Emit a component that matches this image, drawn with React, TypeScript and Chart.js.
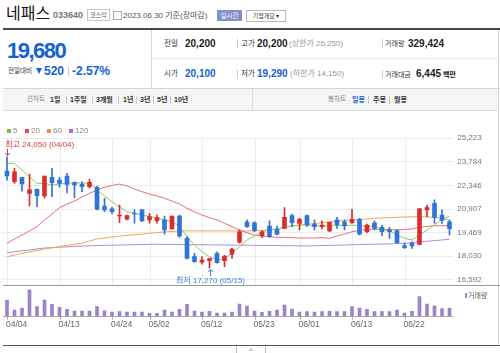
import React, { useEffect, useRef } from 'react';
import { Chart, registerables } from 'chart.js';
Chart.register(...registerables);

const DATES = ['04/04','04/05','04/06','04/07','04/10','04/11','04/12','04/13','04/14','04/17','04/18','04/19','04/20','04/21','04/24','04/25','04/26','04/27','04/28','05/02','05/03','05/04','05/08','05/09','05/10','05/11','05/12','05/15','05/16','05/17','05/18','05/19','05/22','05/23','05/24','05/25','05/26','05/30','05/31','06/01','06/02','06/05','06/07','06/08','06/09','06/12','06/13','06/14','06/15','06/16','06/19','06/20','06/21','06/22','06/23','06/26','06/27','06/28','06/29','06/30'];
const OPEN = [23190,22540,22810,21830,22080,21670,22810,22640,22890,22480,22380,22240,22200,21060,20880,20450,20250,20610,20820,20210,20160,20210,19660,20450,19090,17970,17630,17730,18180,17730,18130,18850,20080,20040,19230,19840,19640,19700,20470,20000,20470,19960,19800,19540,20210,20100,20040,20250,19490,20040,19760,19600,19560,18650,18790,18720,20820,21220,20510,20100];
const HIGH = [24050,23360,22810,23010,22100,22890,23360,22810,23050,22540,22540,22690,22280,21530,20980,21120,20510,20820,20860,20610,20510,20450,20450,20510,19190,18180,17970,17890,18270,18060,18480,19600,20210,20100,19560,20160,19840,20960,20570,20310,20510,20210,20150,20100,20370,20210,20860,20310,19960,20160,19900,19760,19600,18800,18880,20920,21120,21430,20820,20200];
const LOW = [22640,22440,21970,21060,21020,21530,21630,22200,21850,21570,21930,22140,20820,20710,20570,20040,20210,20010,20100,20010,20010,19340,19650,19150,17830,17630,17510,17270,17570,17360,17870,18790,19760,19490,19150,19150,19290,19660,19800,19600,19800,19600,19660,19500,19700,19600,20000,19290,19430,19600,19230,19090,18790,18480,18480,18680,20410,20000,20000,19290];
const CLOSE = [22890,23150,22400,22040,21690,22890,22480,22440,22380,22340,22240,22500,20860,20820,20710,20510,20470,20570,20150,20410,20350,19600,20450,19230,17870,17670,17770,17850,17600,18010,18440,19490,19800,19560,19490,19190,19350,20370,20040,20250,19900,19800,19900,20070,19900,19840,20250,19340,19900,19700,19490,19490,18820,18520,18620,20880,20960,20370,20200,19680];
const VOLUME = [659000,247000,330000,1071000,383000,659000,482000,358000,276000,206000,206000,206000,383000,218000,165000,177000,165000,165000,165000,111000,111000,247000,165000,276000,482000,206000,165000,194000,124000,124000,165000,494000,412000,206000,152000,194000,247000,453000,288000,165000,177000,165000,177000,194000,177000,177000,383000,330000,276000,177000,177000,177000,247000,124000,194000,795000,494000,412000,301000,329424];
const MA5 = [23660,23660,23250,22830,22440,22440,22340,22400,22440,22480,22460,22440,22040,21670,21320,21000,20710,20630,20510,20420,20330,20210,20100,19800,19190,18680,18270,17970,17770,17870,18180,18580,18990,19230,19490,19600,19660,19760,19840,19900,19900,19860,19840,19860,19900,19860,19900,19860,19840,19800,19640,19540,19290,19090,18990,19300,19600,19900,20250,20430];
const MA20 = [18790,19050,19290,19540,19800,20210,20570,20960,21180,21360,21610,21830,22040,22200,22310,22400,22280,22100,21930,21790,21670,21530,21360,21180,20920,20710,20510,20350,20210,20010,19800,19600,19430,19290,19230,19190,19150,19140,19130,19110,19110,19110,19130,19090,19230,19350,19490,19570,19640,19640,19640,19630,19600,19630,19660,19760,19810,19860,19860,19860];
const MA60 = [17970,18070,18170,18260,18350,18440,18510,18590,18660,18730,18790,18930,19050,19110,19170,19230,19270,19320,19350,19400,19440,19480,19510,19540,19540,19540,19540,19540,19540,19540,19540,19540,19540,19550,19580,19600,19660,19750,19840,19900,19940,19990,20040,20080,20130,20170,20210,20240,20270,20300,20330,20350,20370,20390,20400,20410,20390,20360,20300,20210];
const MA120 = [18210,18270,18330,18380,18440,18500,18520,18550,18570,18600,18620,18630,18650,18660,18670,18680,18690,18700,18710,18720,18730,18720,18720,18710,18710,18700,18700,18690,18690,18680,18680,18670,18670,18660,18660,18650,18650,18640,18640,18630,18620,18640,18650,18660,18670,18680,18700,18710,18720,18730,18740,18750,18770,18790,18830,18870,18910,18950,18990,19030];
const PRICE_TICKS = [16592, 18030, 19469, 20907, 22346, 23784, 25223];
const X_TICK_LABELS = ['04/04','04/13','04/24','05/02','05/12','05/23','06/01','06/13','06/22'];

const RED = '#dd2c2c';
const BLUE = '#2f74d8';
const C_MA5 = '#8cc86a';
const C_MA20 = '#e87070';
const C_MA60 = '#f2a552';
const C_MA120 = '#b58ad8';
const C_VOL = '#9c84c9';
const FONT = '"Liberation Sans", Arial, "Noto Sans CJK KR", sans-serif';
const SPLIT_Y = 165;

const fmt = (n: number) => n.toLocaleString('en-US');

function arrow(ctx: CanvasRenderingContext2D, x: number, y1: number, y2: number) {
  const dir = y2 > y1 ? 1 : -1;
  ctx.beginPath();
  ctx.moveTo(x, y1);
  ctx.lineTo(x, y2);
  ctx.moveTo(x - 2.5, y2 - dir * 2.5);
  ctx.lineTo(x, y2);
  ctx.lineTo(x + 2.5, y2 - dir * 2.5);
  ctx.stroke();
}

const overlay = {
  id: 'overlay',
  beforeDatasetsDraw(chart: any) {
    const { ctx, chartArea: a, scales } = chart;
    const xs = scales.x, ys = scales.y;
    ctx.save();
    ctx.lineWidth = 1;
    ctx.strokeStyle = '#ececec';
    PRICE_TICKS.forEach((v) => {
      const py = Math.round(ys.getPixelForValue(v)) + 0.5;
      ctx.beginPath(); ctx.moveTo(a.left, py); ctx.lineTo(a.right, py); ctx.stroke();
    });
    const topY = Math.round(ys.getPixelForValue(PRICE_TICKS[PRICE_TICKS.length - 1])) + 0.5;
    X_TICK_LABELS.forEach((d) => {
      const px = Math.round(xs.getPixelForValue(DATES.indexOf(d))) + 0.5;
      ctx.beginPath(); ctx.moveTo(px, topY); ctx.lineTo(px, SPLIT_Y); ctx.stroke();
    });
    ctx.strokeStyle = '#9a9a9a';
    ctx.beginPath(); ctx.moveTo(3, SPLIT_Y + 0.5); ctx.lineTo(chart.width, SPLIT_Y + 0.5); ctx.stroke();
    const by = Math.round(a.bottom) + 0.5;
    ctx.strokeStyle = '#a8a8a8';
    ctx.beginPath(); ctx.moveTo(a.left, by); ctx.lineTo(a.right, by); ctx.stroke();
    X_TICK_LABELS.forEach((d) => {
      const px = Math.round(xs.getPixelForValue(DATES.indexOf(d))) + 0.5;
      ctx.beginPath(); ctx.moveTo(px, by); ctx.lineTo(px, by + 3); ctx.stroke();
    });
    ctx.restore();
  },
  afterDatasetsDraw(chart: any) {
    const { ctx, chartArea: a, scales } = chart;
    const xs = scales.x, ys = scales.y;
    ctx.save();
    ctx.textBaseline = 'middle';
    ctx.font = `8px ${FONT}`;
    ctx.fillStyle = '#777';
    ctx.textAlign = 'left';
    PRICE_TICKS.forEach((v) => {
      ctx.fillText(fmt(v), a.right + 4, ys.getPixelForValue(v) + 0.5);
    });
    ctx.fillStyle = '#666';
    ctx.font = `8.5px ${FONT}`;
    X_TICK_LABELS.forEach((d) => {
      const px = xs.getPixelForValue(DATES.indexOf(d));
      ctx.fillText(d, px - 1, a.bottom + 8.5);
    });
    // max / min markers
    let hi = 0, lo = 0;
    HIGH.forEach((v, i) => { if (v > HIGH[hi]) hi = i; });
    LOW.forEach((v, i) => { if (v < LOW[lo]) lo = i; });
    ctx.lineWidth = 1;
    ctx.font = `8px ${FONT}`;
    const hx = Math.round(xs.getPixelForValue(hi)) + 0.5;
    const hy = ys.getPixelForValue(HIGH[hi]);
    ctx.strokeStyle = '#d8383c'; ctx.fillStyle = '#d8383c';
    arrow(ctx, hx, hy - 8, hy - 1.5);
    const hText = `최고 ${fmt(HIGH[hi])} (${DATES[hi]})`;
    const hw = ctx.measureText(hText).width;
    ctx.fillText(hText, Math.max(a.left + 2, hx - hw / 2), hy - 12.5);
    const lx = Math.round(xs.getPixelForValue(lo)) + 0.5;
    const ly = ys.getPixelForValue(LOW[lo]);
    ctx.strokeStyle = '#3b7fd0'; ctx.fillStyle = '#3b7fd0';
    arrow(ctx, lx, ly + 8, ly + 1.5);
    const lText = `최저 ${fmt(LOW[lo])} (${DATES[lo]})`;
    const lw = ctx.measureText(lText).width;
    ctx.fillText(lText, lx - lw / 2, ly + 12.8);
    ctx.restore();
  },
};

function PriceChart() {
  const ref = useRef<HTMLCanvasElement>(null);
  useEffect(() => {
    const colors = OPEN.map((o, i) => (CLOSE[i] >= o ? RED : BLUE));
    const line = (label: string, data: number[], color: string) => ({
      type: 'line', label, data, borderColor: color, borderWidth: 1, pointRadius: 0,
      tension: 0, yAxisID: 'y', order: 2,
    });
    const chart = new Chart(ref.current as HTMLCanvasElement, {
      type: 'bar',
      data: {
        labels: DATES,
        datasets: [
          line('5', MA5, C_MA5) as any,
          line('20', MA20, C_MA20) as any,
          line('60', MA60, C_MA60) as any,
          line('120', MA120, C_MA120) as any,
          {
            type: 'bar', label: 'wick', data: LOW.map((l, i) => [l, HIGH[i]]) as any,
            backgroundColor: colors, barThickness: 1, grouped: false, yAxisID: 'y', order: 1,
            borderSkipped: false,
          },
          {
            type: 'bar', label: 'body', data: OPEN.map((o, i) => [o, CLOSE[i]]) as any,
            backgroundColor: colors, barThickness: 4, grouped: false, yAxisID: 'y', order: 0,
            borderSkipped: false,
          },
          {
            type: 'bar', label: '거래량', data: VOLUME, backgroundColor: C_VOL,
            barThickness: 3, grouped: false, yAxisID: 'yv', order: 3,
          },
        ],
      },
      options: {
        responsive: false,
        animation: false,
        devicePixelRatio: 1,
        layout: { padding: { left: 3.25, right: 46.75, top: 8, bottom: 29 } },
        plugins: { legend: { display: false }, tooltip: { enabled: false } },
        scales: {
          x: { display: false, offset: true },
          y: { display: false, min: 14355, max: 25814 },
          yv: { display: false, min: 0, max: 7745600 },
        },
      } as any,
      plugins: [overlay],
    });
    return () => chart.destroy();
  }, []);
  return (
    <canvas ref={ref} width={500} height={225}
      style={{ position: 'absolute', left: 0, top: 120, width: 500, height: 225 }} />
  );
}

type TP = { x: number; y: number; s: number; c?: string; b?: boolean; ls?: number; children: React.ReactNode };
const T = ({ x, y, s, c = '#333', b = false, ls, children }: TP) => (
  <span style={{
    position: 'absolute', left: x, top: y - s / 2, fontSize: s, lineHeight: `${s}px`, color: c,
    fontWeight: b ? 700 : 400, whiteSpace: 'nowrap', letterSpacing: ls,
  }}>{children}</span>
);
const Box = (p: React.CSSProperties) => <div style={{ position: 'absolute', ...p }} />;

export default function App() {
  const blue = '#1662d2';
  const tab = 7;
  return (
    <div style={{ position: 'absolute', left: 0, top: 0, width: 500, height: 353, overflow: 'hidden', background: '#fff', fontFamily: FONT }}>
      {/* title row */}
      <T x={6} y={14} s={16} c="#111">네패스</T>
      <T x={53} y={15} s={9} b c="#777">033640</T>
      <div style={{ position: 'absolute', left: 87, top: 9, width: 21, height: 10, border: '1px solid #c8c8c8', fontSize: 6, lineHeight: '10px', textAlign: 'center', color: '#555' }}>코스닥</div>
      <Box left={113} top={11} width={7} height={7} border="1px solid #aaa" />
      <T x={123} y={15.5} s={8} c="#555">2023.06.30 기준(장마감)</T>
      <div style={{ position: 'absolute', left: 217, top: 10, width: 25, height: 11, background: '#8391c9', color: '#fff', fontSize: 6.5, lineHeight: '11px', textAlign: 'center' }}>실시간</div>
      <div style={{ position: 'absolute', left: 246, top: 10, width: 38, height: 10, border: '1px solid #b8b8b8', color: '#333', fontSize: 6, lineHeight: '10px', textAlign: 'center' }}>기업개요 ▾</div>

      {/* info box */}
      <Box left={3} top={28} width={497} height={2} background="#4a4a4a" />
      <Box left={3} top={88} width={497} height={1} background="#d5d5d5" />
      <Box left={151} top={30} width={1} height={58} background="#d5d5d5" />
      <Box left={152} top={58} width={346} height={1} background="#ebebeb" />
      <Box left={498} top={30} width={1} height={315} background="#d5d5d5" />

      <T x={7} y={51} s={22} b c={blue} ls={-1.5}>19,680</T>
      <T x={8} y={71.5} s={6.5} c="#333">전일대비</T>
      <Box left={36} top={68} width={0} height={0} borderLeft="3.5px solid transparent" borderRight="3.5px solid transparent" borderTop={`6px solid ${blue}`} />
      <T x={44} y={71} s={12} b c={blue}>520</T>
      <Box left={68} top={67} width={1} height={9} background="#ccc" />
      <T x={72} y={71} s={12} b c={blue}>-2.57%</T>

      <T x={164} y={43.5} s={7.5}>전일</T>
      <T x={185} y={43.5} s={10} b c="#222">20,200</T>
      <Box left={237} top={39} width={1} height={9} background="#ccc" />
      <T x={241} y={43.5} s={7.5}>고가</T>
      <T x={257} y={43.5} s={10} b c="#222">20,200</T>
      <T x={289} y={43.5} s={8} c="#999">(상한가 26,250)</T>
      <Box left={382} top={39} width={1} height={9} background="#ccc" />
      <T x={385} y={43.5} s={7}>거래량</T>
      <T x={408} y={43.5} s={10} b c="#222">329,424</T>

      <T x={164} y={74} s={7.5}>시가</T>
      <T x={185} y={74} s={10} b c={blue}>20,100</T>
      <Box left={237} top={69.5} width={1} height={9} background="#ccc" />
      <T x={241} y={74} s={7.5}>저가</T>
      <T x={257} y={74} s={10} b c={blue}>19,290</T>
      <T x={290} y={74} s={8} c="#999">(하한가 14,150)</T>
      <Box left={382} top={69.5} width={1} height={9} background="#ccc" />
      <T x={385} y={74} s={7}>거래대금</T>
      <T x={416} y={74} s={10} b c="#222">6,445</T>
      <T x={443} y={74} s={7} b c="#222">백만</T>

      {/* tab bar */}
      <Box left={3} top={89} width={495} height={21} background="#f5f5f6" borderBottom="1px solid #dcdcdc" />
      <T x={27} y={99.5} s={6.5} c="#888">선차트</T>
      <T x={50} y={99.5} s={tab} b c="#333">1일</T>
      <Box left={66} top={96} width={1} height={8} background="#ccc" />
      <T x={70} y={99.5} s={tab} b c="#333">1주일</T>
      <Box left={92} top={96} width={1} height={8} background="#ccc" />
      <T x={96} y={99.5} s={tab} b c="#333">3개월</T>
      <Box left={118} top={96} width={1} height={8} background="#ccc" />
      <T x={123} y={99.5} s={tab} b c="#333">1년</T>
      <Box left={136} top={96} width={1} height={8} background="#ccc" />
      <T x={140} y={99.5} s={tab} b c="#333">3년</T>
      <Box left={153} top={96} width={1} height={8} background="#ccc" />
      <T x={157} y={99.5} s={tab} b c="#333">5년</T>
      <Box left={170} top={96} width={1} height={8} background="#ccc" />
      <T x={174} y={99.5} s={tab} b c="#333">10년</T>
      <Box left={252} top={89} width={1} height={21} background="#dcdcdc" />
      <T x={328} y={99.5} s={6.5} c="#888">봉차트</T>
      <T x={352} y={99.5} s={tab} b c={blue}>일봉</T>
      <Box left={368} top={96} width={1} height={8} background="#ccc" />
      <T x={373} y={99.5} s={tab} b c="#333">주봉</T>
      <Box left={389} top={96} width={1} height={8} background="#ccc" />
      <T x={394} y={99.5} s={tab} b c="#333">월봉</T>

      <PriceChart />

      {/* MA legend */}
      <Box left={7} top={129} width={4} height={4} background="#6cc04a" />
      <T x={13} y={131} s={8} c="#888">5</T>
      <Box left={25} top={129} width={4} height={4} background="#e34c4c" />
      <T x={31} y={131} s={8} c="#888">20</T>
      <Box left={47} top={129} width={4} height={4} background="#f39234" />
      <T x={53} y={131} s={8} c="#888">60</T>
      <Box left={69} top={129} width={4} height={4} background="#a56de0" />
      <T x={75} y={131} s={8} c="#888">120</T>

      {/* volume legend */}
      <Box left={465} top={292.5} width={2} height={5} background={C_VOL} />
      <T x={468} y={295} s={7} c="#555">거래량</T>

      {/* bottom */}
      <Box left={3} top={344.5} width={497} height={1.5} background="#555" />
      <div style={{ position: 'absolute', left: 236, top: 346, width: 28, height: 9, border: '1px solid #bbb', borderTop: 'none', color: '#777', fontSize: 8, lineHeight: '10px', textAlign: 'center' }}>^</div>
    </div>
  );
}
